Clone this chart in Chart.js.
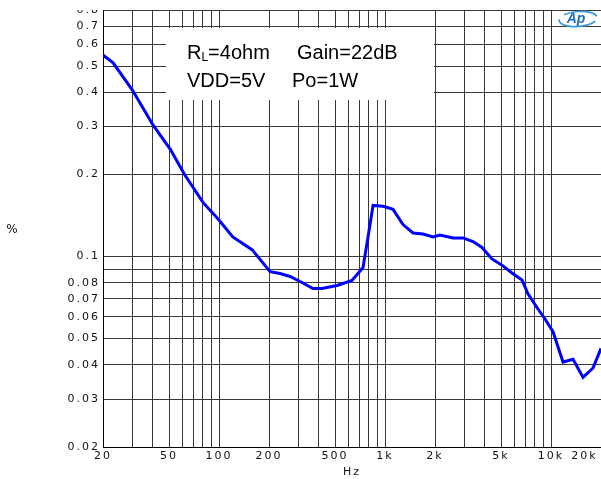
<!DOCTYPE html>
<html>
<head>
<meta charset="utf-8">
<script src="https://cdn.jsdelivr.net/npm/chart.js@4/dist/chart.umd.min.js"></script>
<style>
  html, body { margin: 0; padding: 0; background: #fff; }
  #wrap { width: 601px; height: 479px; position: relative; overflow: hidden; }
</style>
</head>
<body>
<div id="wrap"><canvas id="c" width="601" height="479"></canvas></div>
<script>
// ---- data ----
const freqHz = [20, 23, 30, 40, 51, 62, 80, 99, 121, 158, 203, 233, 268, 316, 368, 417, 514, 632, 737, 790, 847, 973, 1117, 1283, 1475, 1694, 1945, 2143, 2567, 2950, 3388, 3838, 4409, 5065, 5820, 6686, 7262, 8226, 9200, 10280, 11810, 13570, 15590, 17900, 20000];
const thdPct = [0.549, 0.514, 0.409, 0.304, 0.247, 0.200, 0.158, 0.137, 0.118, 0.106, 0.088, 0.0866, 0.0845, 0.0803, 0.0763, 0.0763, 0.0783, 0.0817, 0.0911, 0.118, 0.154, 0.153, 0.149, 0.131, 0.122, 0.121, 0.118, 0.120, 0.117, 0.117, 0.1135, 0.108, 0.098, 0.093, 0.087, 0.082, 0.073, 0.065, 0.059, 0.053, 0.041, 0.042, 0.036, 0.039, 0.046];

const xGridHz = [20, 30, 40, 50, 60, 70, 80, 90, 100, 200, 300, 400, 500, 600, 700, 800, 900, 1000, 2000, 3000, 4000, 5000, 6000, 7000, 8000, 9000, 10000, 20000];
const xLabelHz = [20, 50, 100, 200, 500, 1000, 2000, 5000, 10000, 20000];
const xLabelText = ['20', '50', '100', '200', '500', '1k', '2k', '5k', '10k', '20k'];

const yMin = 0.02, yMax = 0.803;
const yGridPct = [0.02, 0.03, 0.04, 0.05, 0.06, 0.07, 0.08, 0.09, 0.1, 0.2, 0.3, 0.4, 0.5, 0.6, 0.7, 0.8, 0.803];
const yLabelPct = [0.02, 0.03, 0.04, 0.05, 0.06, 0.07, 0.08, 0.1, 0.2, 0.3, 0.4, 0.5, 0.6, 0.7, 0.8];
const yLabelText = ['0.02', '0.03', '0.04', '0.05', '0.06', '0.07', '0.08', '0.1', '0.2', '0.3', '0.4', '0.5', '0.6', '0.7', '0.8'];

const infoLine1a = ['R', 'L', '=4ohm'];
const infoLine1b = 'Gain=22dB';
const infoLine2a = 'VDD=5V';
const infoLine2b = 'Po=1W';

function findLabel(vals, texts, v) {
  for (let i = 0; i < vals.length; i++) {
    if (Math.abs(vals[i] - v) / vals[i] < 1e-6) return texts[i];
  }
  return '';
}

const decorPlugin = {
  id: 'decor',
  beforeDraw(chart) {
    chart.ctx.letterSpacing = '2px';
  },
  beforeDatasetsDraw(chart) {
    const ctx = chart.ctx;
    ctx.letterSpacing = '0px';
    const xs = chart.scales.x, ys = chart.scales.y;
    // white info box covering the grid
    const left = xs.getPixelForValue(48);
    const right = xs.getPixelForValue(2000) - 1;
    const top = ys.getPixelForValue(0.69);
    const bottom = ys.getPixelForValue(0.375);
    ctx.save();
    ctx.fillStyle = '#fff';
    ctx.fillRect(left, top, right - left, bottom - top);
    ctx.fillStyle = '#000';
    ctx.textBaseline = 'alphabetic';
    ctx.textAlign = 'left';
    ctx.font = '20px "Liberation Sans", Arial, sans-serif';
    let x = 187;
    ctx.fillText(infoLine1a[0], x, 59);
    x += ctx.measureText(infoLine1a[0]).width;
    ctx.font = '12px "Liberation Sans", Arial, sans-serif';
    ctx.fillText(infoLine1a[1], x, 61);
    x += ctx.measureText(infoLine1a[1]).width;
    ctx.font = '20px "Liberation Sans", Arial, sans-serif';
    ctx.fillText(infoLine1a[2], x, 59);
    ctx.fillText(infoLine1b, 297, 59);
    ctx.fillText(infoLine2a, 187, 87);
    ctx.fillText(infoLine2b, 292, 87);
    ctx.restore();
  },
  afterDraw(chart) {
    const ctx = chart.ctx;
    ctx.save();
    ctx.letterSpacing = '0px';
    // clip top label as in the reference
    ctx.fillStyle = '#fff';
    ctx.fillRect(0, 0, chart.chartArea.left - 1, chart.chartArea.top);
    // y unit
    ctx.fillStyle = '#111';
    ctx.font = '12px "DejaVu Sans", sans-serif';
    ctx.textAlign = 'center';
    ctx.textBaseline = 'middle';
    ctx.fillText('%', 12, 230);
    // AP logo
    ctx.strokeStyle = '#3a9ad9';
    ctx.lineWidth = 1.6;
    ctx.beginPath();
    ctx.ellipse(578, 19, 19, 7.5, -0.08, Math.PI * 0.15, Math.PI * 1.05);
    ctx.stroke();
    ctx.beginPath();
    ctx.ellipse(578, 19, 19, 7.5, -0.08, Math.PI * 1.25, Math.PI * 1.95);
    ctx.stroke();
    ctx.fillStyle = '#1f6fc0';
    ctx.font = 'italic bold 14px "Liberation Sans", Arial, sans-serif';
    ctx.fillText('Ap', 576, 19);
    ctx.restore();
  }
};

new Chart(document.getElementById('c'), {
  type: 'line',
  data: {
    datasets: [{
      data: freqHz.map((f, i) => ({ x: f, y: thdPct[i] })),
      borderColor: '#0000ff',
      borderWidth: 3,
      pointRadius: 0,
      tension: 0,
      fill: false
    }]
  },
  options: {
    responsive: false,
    devicePixelRatio: 1,
    animation: false,
    layout: { padding: { top: 10, right: 0, bottom: 0, left: 0 } },
    plugins: { legend: { display: false }, tooltip: { enabled: false } },
    scales: {
      x: {
        type: 'logarithmic',
        min: 20,
        max: 20000,
        afterBuildTicks(scale) { scale.ticks = xGridHz.map(v => ({ value: v })); },
        afterFit(scale) { scale.height = 32; scale.paddingRight = 0; scale.paddingLeft = 0; },
        ticks: {
          autoSkip: false,
          maxRotation: 0,
          minRotation: 0,
          padding: 3,
          color: '#111',
          font: { family: '"DejaVu Sans", sans-serif', size: 11 },
          callback(v) {
            const t = findLabel(xLabelHz, xLabelText, v);
            return v === 20000 ? t + '\u00a0\u00a0\u00a0\u00a0\u00a0\u00a0' : t;
          }
        },
        grid: { color: '#383838', lineWidth: 1, drawTicks: false },
        border: { display: true, color: '#000', width: 1 },
        title: { display: true, text: 'Hz', color: '#111', font: { family: '"DejaVu Sans", sans-serif', size: 11 }, padding: { top: 0, bottom: 0 } }
      },
      y: {
        type: 'logarithmic',
        min: yMin,
        max: yMax,
        afterBuildTicks(scale) { scale.ticks = yGridPct.map(v => ({ value: v })); },
        afterFit(scale) { scale.width = 103; scale.paddingTop = 0; scale.paddingBottom = 0; },
        ticks: {
          autoSkip: false,
          padding: 3,
          color: '#111',
          font: { family: '"DejaVu Sans", sans-serif', size: 11 },
          callback(v) { return findLabel(yLabelPct, yLabelText, v); }
        },
        grid: { color: '#383838', lineWidth: 1, drawTicks: false },
        border: { display: true, color: '#000', width: 1 }
      }
    }
  },
  plugins: [decorPlugin]
});
</script>
</body>
</html>
